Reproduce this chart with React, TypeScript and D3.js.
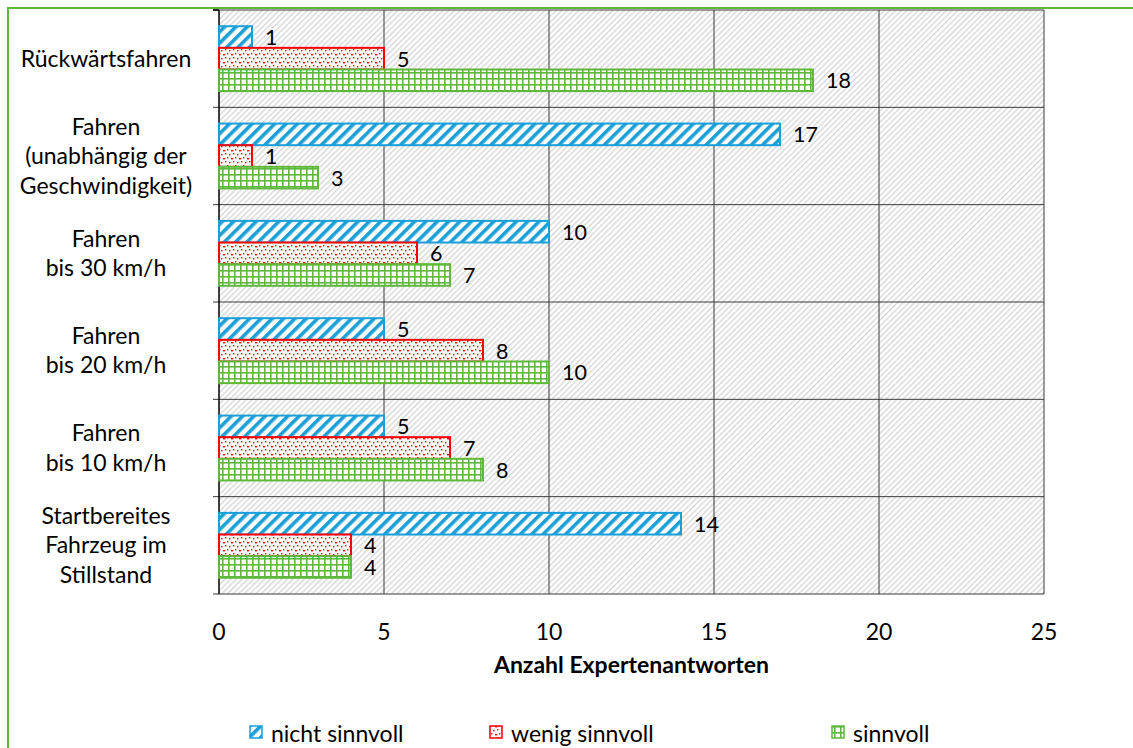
import React from "react";
import * as d3 from "d3";

const categories: string[][] = [
  ["Rückwärtsfahren"],
  ["Fahren", "(unabhängig der", "Geschwindigkeit)"],
  ["Fahren", "bis 30 km/h"],
  ["Fahren", "bis 20 km/h"],
  ["Fahren", "bis 10 km/h"],
  ["Startbereites", "Fahrzeug im", "Stillstand"],
];
const seriesNames = ["nicht sinnvoll", "wenig sinnvoll", "sinnvoll"];
const nichtSinnvoll = [1, 17, 10, 5, 5, 14];
const wenigSinnvoll = [5, 1, 6, 8, 7, 4];
const sinnvoll = [18, 3, 7, 10, 8, 4];
const xTicks = [0, 5, 10, 15, 20, 25];

const W = 1133, H = 748;
const left = 219, right = 1044, top = 10, bottom = 594;
const BLUE = "#1a9fd9", RED = "#ff0000", GREEN = "#5fb83c";
const FONT = "Lato, 'Open Sans', sans-serif";
const FS = 23;
const VFS = 21.5;

export default function App() {
  const x = d3.scaleLinear().domain([0, 25]).range([left, right]);
  const y = d3.scaleBand<number>().domain(d3.range(categories.length)).range([top, bottom]);
  const series = [nichtSinnvoll, wenigSinnvoll, sinnvoll];
  const colors = [BLUE, RED, GREEN];
  const fills = ["url(#pBlue)", "url(#pRed)", "url(#pGreen)"];
  const bh = y.bandwidth() / 4.5;
  const off = (y.bandwidth() - 3 * bh) / 2;
  const dots = [[1, 1], [5, 2], [3, 5], [7, 6], [0, 6]];
  return (
    <svg width={W} height={H} style={{ position: "absolute", left: 0, top: 0, background: "#fff" }} fontFamily={FONT}>
      <defs>
        <pattern id="pBg" width="4" height="4" patternUnits="userSpaceOnUse" patternTransform="rotate(45)">
          <rect width="4" height="4" fill="#fff" />
          <rect width="1.3" height="4" fill="#d4d4d4" />
        </pattern>
        <pattern id="pBlue" width="8" height="8" patternUnits="userSpaceOnUse" patternTransform="rotate(45)">
          <rect width="8" height="8" fill="#fff" />
          <rect width="3.6" height="8" fill={BLUE} />
        </pattern>
        <pattern id="pGreen" width="6" height="6" patternUnits="userSpaceOnUse">
          <rect width="6" height="6" fill="#fff" />
          <rect width="6" height="1.6" fill={GREEN} />
          <rect width="1.6" height="6" fill={GREEN} />
        </pattern>
        <pattern id="pRed" width="8" height="8" patternUnits="userSpaceOnUse">
          <rect width="8" height="8" fill="#fff" />
          {dots.map((d, i) => (
            <rect key={i} x={d[0]} y={d[1]} width="1.4" height="1.4" fill={RED} />
          ))}
        </pattern>
      </defs>
      <rect x={8} y={8} width={W + 20} height={H + 20} fill="#fff" stroke={GREEN} strokeWidth={2} />
      <rect x={left} y={top} width={right - left} height={bottom - top} fill="url(#pBg)" />
      {xTicks.slice(1).map((t) => (
        <line key={t} x1={x(t)} x2={x(t)} y1={top} y2={bottom} stroke="#3a3a3a" strokeWidth={1} />
      ))}
      {d3.range(categories.length + 1).map((i) => {
        const yy = i < categories.length ? y(i)! : bottom;
        return <line key={i} x1={left - 6} x2={right} y1={yy} y2={yy} stroke="#3a3a3a" strokeWidth={1} />;
      })}
      <line x1={left} x2={left} y1={top} y2={bottom} stroke="#000" strokeWidth={1.5} />
      <line x1={left - 6} x2={left} y1={top} y2={top} stroke="#000" strokeWidth={1.5} />
      {categories.map((c, ci) =>
        series.map((s, si) => {
          const yy = y(ci)! + off + si * bh;
          return (
            <g key={ci + "-" + si}>
              <rect x={x(0)} y={yy} width={x(s[ci]) - x(0)} height={bh} fill={fills[si]} stroke={colors[si]} strokeWidth={2} />
              <text x={x(s[ci]) + 13} y={yy + bh / 2 + 8} fontSize={VFS} fill="#000">{s[ci]}</text>
            </g>
          );
        })
      )}
      {categories.map((c, ci) => {
        const cy = y(ci)! + y.bandwidth() / 2;
        const lh = 29.5;
        return (
          <text key={ci} textAnchor="middle" fontSize={FS} fill="#000">
            {c.map((l, li) => (
              <tspan key={li} x={106} y={cy - ((c.length - 1) * lh) / 2 + li * lh + 8}>{l}</tspan>
            ))}
          </text>
        );
      })}
      {xTicks.map((t) => (
        <text key={t} x={x(t)} y={640} textAnchor="middle" fontSize={FS} fill="#000">{t}</text>
      ))}
      <text x={(left + right) / 2} y={673} textAnchor="middle" fontSize={FS} fontWeight="bold" fill="#000">Anzahl Expertenantworten</text>
      {seriesNames.map((n, i) => {
        const lx = [250, 490, 832][i];
        return (
          <g key={n}>
            <rect x={lx} y={726} width={12} height={12} fill={fills[i]} stroke={colors[i]} strokeWidth={1.5} />
            <text x={lx + 21} y={742} fontSize={FS} fill="#000">{n}</text>
          </g>
        );
      })}
    </svg>
  );
}
